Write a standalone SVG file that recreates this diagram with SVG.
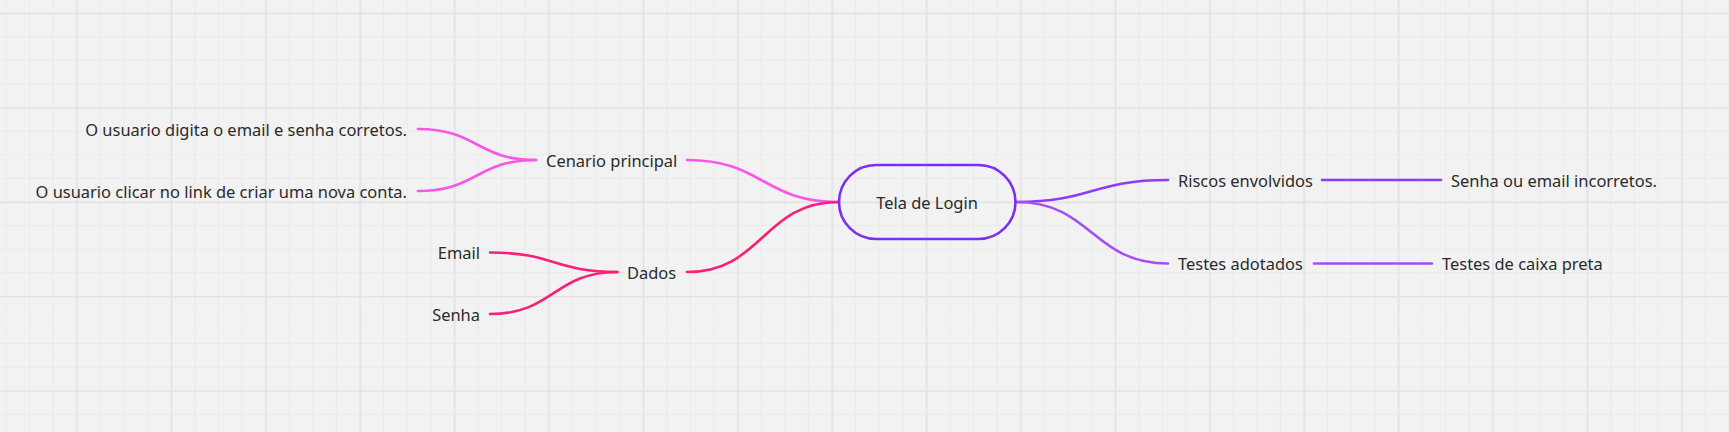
<svg xmlns="http://www.w3.org/2000/svg" width="1729" height="432" viewBox="0 0 1729 432">
<defs>
<pattern id="minor" width="23.6" height="23.6" patternUnits="userSpaceOnUse" x="5.5" y="12.7">
<path d="M0 0.5H23.6M0.5 0V23.6" stroke="#eaeaea" stroke-width="1" fill="none"/>
</pattern>
<pattern id="major" width="94.4" height="94.4" patternUnits="userSpaceOnUse" x="76.3" y="12.7">
<path d="M0 0.75H94.4M0.75 0V94.4" stroke="#e2e2e2" stroke-width="1.5" fill="none"/>
</pattern>
</defs>
<style>
text{font-family:"Noto Sans","Open Sans","Liberation Sans",sans-serif;font-size:16.45px;fill:#2b2b2b;dominant-baseline:central}
.r{text-anchor:end}
.c{fill:none;stroke-width:2.6;stroke-linecap:round}
.pk{stroke:#fa55e6}
.rd{stroke:#fc1f79}
.pu{stroke:#8c3cf6}
.pl{stroke:#a64df7}
</style>
<rect width="1729" height="432" fill="#f2f2f2"/>
<rect width="1729" height="432" fill="url(#minor)"/>
<rect width="1729" height="432" fill="url(#major)"/>
<g id="connectors">
<path class="c pk" d="M418 129C477 129 477 160 536 160"/>
<path class="c pk" d="M418 191C477 191 477 160 536 160"/>
<path class="c pk" d="M687 160C763 160 763 202 839 202"/>
<path class="c rd" d="M490 252.5C554 252.5 554 272 617.5 272"/>
<path class="c rd" d="M490 314C554 314 554 272 617.5 272"/>
<path class="c rd" d="M687 272C763 272 763 202 839 202"/>
<path class="c pu" d="M1016 202C1092 202 1092 180 1168 180"/>
<path class="c pl" d="M1016 202C1092 202 1092 263.5 1168 263.5"/>
<path class="c pu" d="M1322 180H1441"/>
<path class="c pl" d="M1314 263.5H1432"/>
</g>
<g id="root">
<rect x="839" y="165" width="176.5" height="74" rx="37" fill="none" stroke="#7b2ff2" stroke-width="2.6"/>
<text x="927" y="202" text-anchor="middle">Tela de Login</text>
</g>
<g id="cenario"><text x="546" y="160">Cenario principal</text></g>
<g id="leaf1"><text class="r" x="407" y="129">O usuario digita o email e senha corretos.</text></g>
<g id="leaf2"><text class="r" x="407" y="191">O usuario clicar no link de criar uma nova conta.</text></g>
<g id="dados"><text x="627" y="272">Dados</text></g>
<g id="email"><text class="r" x="480" y="252.5">Email</text></g>
<g id="senha"><text class="r" x="480" y="314">Senha</text></g>
<g id="riscos"><text x="1178" y="180">Riscos envolvidos</text></g>
<g id="senhaemail"><text x="1451" y="180">Senha ou email incorretos.</text></g>
<g id="testes"><text x="1178" y="263.5">Testes adotados</text></g>
<g id="caixa"><text x="1442" y="263.5">Testes de caixa preta</text></g>
</svg>
